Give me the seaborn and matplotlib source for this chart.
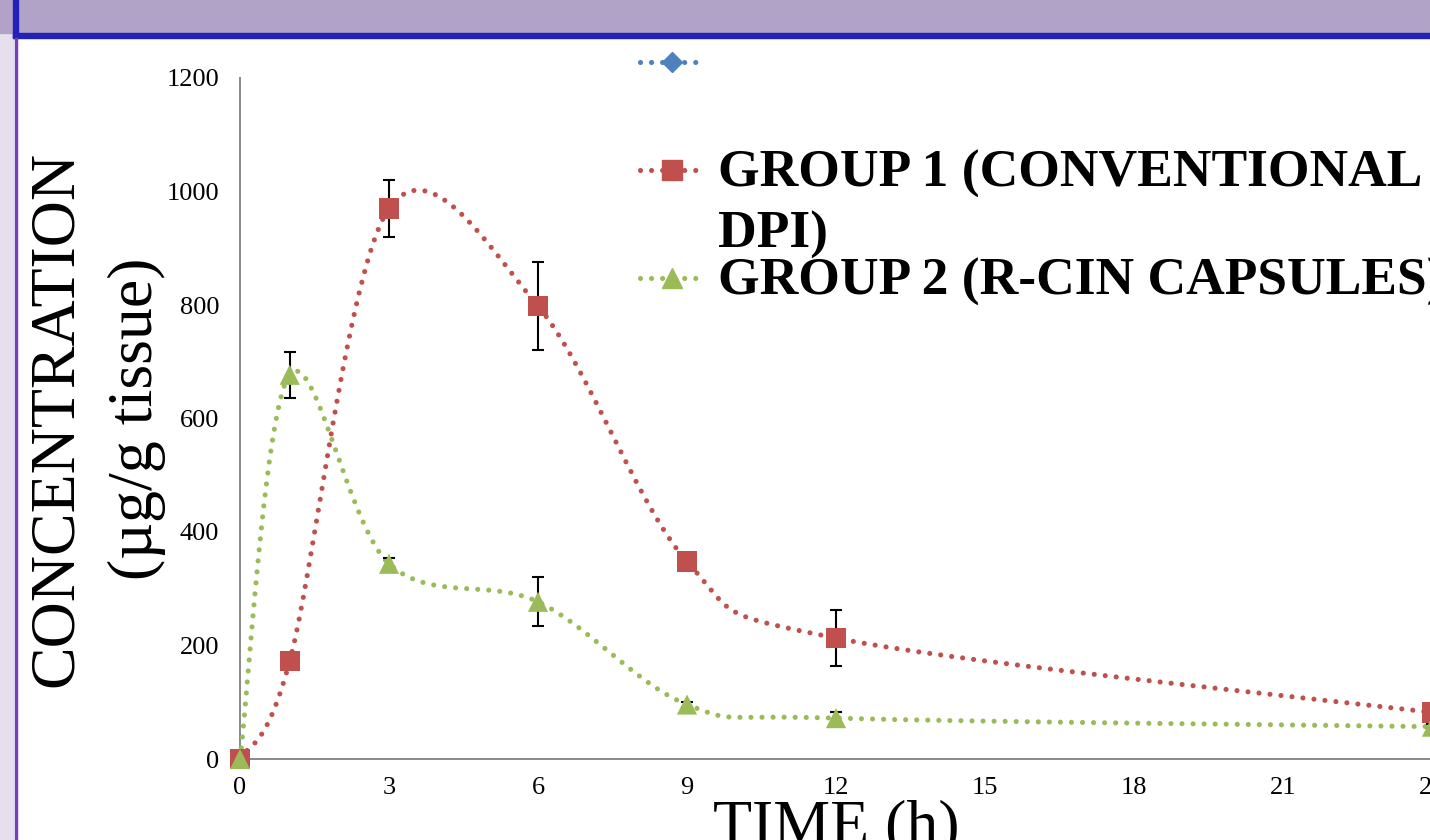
import numpy as np
import pandas as pd
import matplotlib
matplotlib.use("Agg")
import matplotlib.pyplot as plt
import seaborn as sns
from matplotlib.patches import Rectangle
from matplotlib.lines import Line2D

# ---------------- data ----------------
time_h = [0, 1, 3, 6, 9, 12, 24]
group1_conc = [0, 172, 970, 798, 348, 213, 82]
group1_err = [0, 8, 51, 78, 10, 50, 8]
group2_conc = [0, 677, 344, 277, 96, 72, 57]
group2_err = [0, 40, 10, 43, 5, 11, 4]
series_names = ["", "GROUP 1 (CONVENTIONAL DPI)", "GROUP 2 (R-CIN CAPSULES)"]
x_ticks = [0, 3, 6, 9, 12, 15, 18, 21, 24]
y_ticks = [0, 200, 400, 600, 800, 1000, 1200]

# ---------------- style ----------------
sns.set_theme(style="white")
plt.rcParams["font.family"] = ["Liberation Serif", "DejaVu Serif"]

W, H = 1430, 840
fig = plt.figure(figsize=(W / 100, H / 100), dpi=100)
fig.patch.set_facecolor("white")

def fx(px):
    return px / W

def fy(py):
    return 1 - py / H

# slide decorations
fig.add_artist(Rectangle((0, 0), fx(13), 1, transform=fig.transFigure,
                         color="#E6E0EE", zorder=0))
fig.add_artist(Rectangle((0, fy(33)), 1, 33 / H, transform=fig.transFigure,
                         color="#B1A3C8", zorder=0))
fig.add_artist(Rectangle((fx(13), fy(38)), 1, 5 / H, transform=fig.transFigure,
                         color="#2222B8", zorder=1))
fig.add_artist(Rectangle((fx(13), fy(38)), fx(5), 38 / H, transform=fig.transFigure,
                         color="#2222B8", zorder=1))
fig.add_artist(Rectangle((fx(15), 0), fx(2), fy(38), transform=fig.transFigure,
                         color="#7B3DB8", zorder=1))

ax = fig.add_axes([fx(240), fy(759), (1432 - 240) / W, (759 - 78) / H])
ax.set_facecolor("none")

RED = "#C0504D"
GREEN = "#9BBB59"
BLUE = "#4F81BD"
LW = 3.7
DOT = (0, (0.001, 2.15))


def excel_smooth(x, y, n=60):
    pts = np.column_stack([x, y]).astype(float)
    m = len(pts)
    out = []
    t = np.linspace(0, 1, n)[:, None]
    for i in range(m - 1):
        p0 = pts[i - 1] if i > 0 else pts[i]
        p1, p2 = pts[i], pts[i + 1]
        p3 = pts[i + 2] if i + 2 < m else pts[i + 1]
        c1 = p1 + (p2 - p0) / 6
        c2 = p2 - (p3 - p1) / 6
        seg = (1 - t) ** 3 * p1 + 3 * (1 - t) ** 2 * t * c1 + 3 * (1 - t) * t ** 2 * c2 + t ** 3 * p2
        out.append(seg if i == 0 else seg[1:])
    return np.vstack(out)


df = pd.DataFrame({
    "time": time_h * 2,
    "conc": group1_conc + group2_conc,
    "err": group1_err + group2_err,
    "group": [series_names[1]] * len(time_h) + [series_names[2]] * len(time_h),
})

# smooth dotted curves
for name, color in [(series_names[1], RED), (series_names[2], GREEN)]:
    sub = df[df.group == name]
    curve = excel_smooth(sub.time.values, sub.conc.values)
    ax.plot(curve[:, 0], curve[:, 1], color=color, lw=LW, linestyle=DOT,
            dash_capstyle="round", zorder=3, clip_on=False)

# error bars
for name in series_names[1:]:
    sub = df[df.group == name]
    ax.errorbar(sub.time, sub.conc, yerr=sub.err, fmt="none", ecolor="black",
                elinewidth=1.5, capsize=4.5, capthick=1.5, zorder=3.5)

# markers
sns.scatterplot(data=df, x="time", y="conc", hue="group", style="group",
                palette={series_names[1]: RED, series_names[2]: GREEN},
                markers={series_names[1]: "s", series_names[2]: "^"},
                s=210, linewidth=0, legend=False, ax=ax, zorder=4, clip_on=False)

ax.set_xlim(0, 24)
ax.set_ylim(0, 1200)
ax.set_xticks(x_ticks)
ax.set_yticks(y_ticks)
ax.set_xticklabels([str(v) for v in x_ticks])
ax.set_yticklabels([str(v) for v in y_ticks])

for side in ["top", "right"]:
    ax.spines[side].set_visible(False)
for side in ["left", "bottom"]:
    ax.spines[side].set_color("#898989")
    ax.spines[side].set_linewidth(1.4)
ax.tick_params(axis="both", which="major", direction="out", length=5, width=1.4,
               color="#898989", labelsize=19, labelcolor="black")
ax.tick_params(axis="y", pad=10)
ax.tick_params(axis="x", pad=8)
ax.grid(False)

ax.set_ylabel("CONCENTRATION\n(µg/g tissue)", fontsize=46, linespacing=1.48,
              va="center", color="black")
ax.yaxis.set_label_coords((97 - 240) / 1192, 0.5)
ax.set_xlabel("TIME (h)", fontsize=46, va="top", color="black")
ax.xaxis.set_label_coords(0.5, (759 - 799) / 681)

# legend (manual, matching the slide's layout)
leg_rows = [(62, BLUE, "D", 10), (170, RED, "s", 14.5), (278, GREEN, "^", 14.5)]
for (py, col, mk, ms) in leg_rows:
    fig.add_artist(Line2D([fx(640), fx(700)], [fy(py), fy(py)], transform=fig.transFigure,
                          color=col, lw=LW, linestyle=DOT, dash_capstyle="round"))
    fig.add_artist(Line2D([fx(672)], [fy(py)], transform=fig.transFigure,
                          color=col, marker=mk, markersize=ms, linestyle="none"))

leg_font = dict(fontsize=38.5, fontweight="bold", color="black", va="baseline", ha="left")
fig.text(fx(718), fy(187), "GROUP 1 (CONVENTIONAL", **leg_font)
fig.text(fx(718), fy(248), "DPI)", **leg_font)
fig.text(fx(718), fy(295), series_names[2], **leg_font)

fig.savefig("out.png", dpi=100)
